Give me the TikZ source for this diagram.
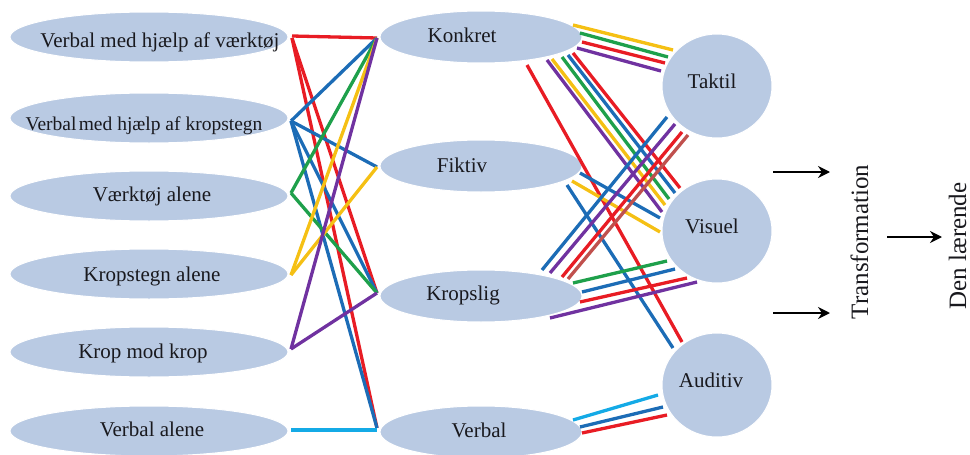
\documentclass[tikz,border=0pt]{standalone}
\usepackage{fontspec}
\setmainfont{Liberation Serif}
\usetikzlibrary{shapes.geometric,arrows.meta}
\definecolor{ellblue}{RGB}{185,202,227}
\definecolor{cred}{RGB}{232,28,36}
\definecolor{cblue}{RGB}{28,108,182}
\definecolor{cgreen}{RGB}{30,160,75}
\definecolor{cyell}{RGB}{245,192,20}
\definecolor{cpurp}{RGB}{112,50,160}
\definecolor{ccyan}{RGB}{20,170,230}
\definecolor{cbrown}{RGB}{192,80,77}
\definecolor{txtc}{RGB}{25,25,30}
\begin{document}
\begin{tikzpicture}[x=1pt,y=-1pt,
  lell/.style={ellipse,fill=ellblue,draw=white,line width=1pt,minimum width=278pt,minimum height=50pt,inner sep=0pt},
  mell/.style={ellipse,fill=ellblue,draw=white,line width=1pt,minimum width=202pt,minimum height=52pt,inner sep=0pt},
  circ/.style={ellipse,fill=ellblue,draw=white,line width=1pt,minimum width=110pt,minimum height=104pt,inner sep=0pt},
  txt/.style={anchor=base,inner sep=0pt,text=txtc,font=\fontsize{21}{25}\selectfont},
  rtxt/.style={anchor=base,rotate=90,inner sep=0pt,text=txtc,font=\fontsize{25}{30}\selectfont},
  ln/.style={line width=3.3pt},
  cr/.style={draw=cred}, cb/.style={draw=cblue}, cg/.style={draw=cgreen},
  cy/.style={draw=cyell}, cp/.style={draw=cpurp}, cc/.style={draw=ccyan},
  cbr/.style={draw=cbrown},
  arr/.style={line width=2.8pt,-{Stealth[length=12pt,width=12pt,inset=4pt]}}
]
\useasboundingbox (0,0) rectangle (970,455);

% left column
\node[lell] (l1) at (149,37) {};
\node[lell] (l2) at (149,118) {};
\node[lell] (l3) at (149,196) {};
\node[lell] (l4) at (149,274) {};
\node[lell] (l5) at (149,352) {};
\node[lell] (l6) at (149,431) {};
% middle column
\node[mell] (konkret) at (481,37) {};
\node[mell] (fiktiv) at (481,166) {};
\node[mell] (kropslig) at (481,296) {};
\node[mell] (verbal) at (481,432) {};
% right column
\node[circ] (taktil) at (717,86) {};
\node[circ] (visuel) at (717,231) {};
\node[circ] (auditiv) at (717,385) {};

% texts
\node[txt] (t1) at (160,47) {Verbal med hjælp af værktøj};
\node[txt,font=\fontsize{19.5}{24}\selectfont] (t2) at (144,130) {Verbal\hspace{0.12em}med hjælp af kropstegn};
\node[txt] (t3) at (152,201.5) {Værktøj alene};
\node[txt] (t4) at (152,281.5) {Kropstegn alene};
\node[txt] (t5) at (143,358) {Krop mod krop};
\node[txt] (t6) at (152,436.5) {Verbal alene};
\node[txt] (tk) at (462,42) {Konkret};
\node[txt] (tf) at (462,172) {Fiktiv};
\node[txt] (tkr) at (463,300) {Kropslig};
\node[txt] (tv) at (479,437) {Verbal};
\node[txt] (tt) at (712,88) {Taktil};
\node[txt] (tvi) at (712,233) {Visuel};
\node[txt] (ta) at (711,387) {Auditiv};
\node[rtxt] (trans) at (868,242) {Transformation};
\node[rtxt] (den) at (966,246) {Den lærende};

% left endpoints
\coordinate (p1) at ([shift={(143,-1)}]l1.center);
\coordinate (p1b) at ([shift={(143,1)}]l1.center);
\coordinate (p2) at ([shift={(142,3)}]l2.center);
\coordinate (p3) at ([shift={(142,-3)}]l3.center);
\coordinate (p4) at ([shift={(142,1)}]l4.center);
\coordinate (p5) at ([shift={(142,-3)}]l5.center);
\coordinate (p6) at ([shift={(142,-1)}]l6.center);
% middle left endpoints
\coordinate (mk) at ([shift={(-104,1)}]konkret.center);
\coordinate (mf) at ([shift={(-104,1)}]fiktiv.center);
\coordinate (mkr) at ([shift={(-104,-3)}]kropslig.center);
\coordinate (mv) at ([shift={(-104,-4)}]verbal.center);
\coordinate (mv2) at ([shift={(-104,-2)}]verbal.center);

% left -> middle
\draw[ln,cr] (p1) -- (mk);
\draw[ln,cr] (p1b) -- (mkr);
\draw[ln,cr] (p1b) -- (mv);
\draw[ln,cb] (p2) -- (mk);
\draw[ln,cb] (p2) -- (mf);
\draw[ln,cb] (p2) -- (mkr);
\draw[ln,cb] (p2) -- (mv);
\draw[ln,cg] (p3) -- (mk);
\draw[ln,cg] (p3) -- (mkr);
\draw[ln,cy] (p4) -- (mk);
\draw[ln,cy] (p4) -- (mf);
\draw[ln,cp] (p5) -- (mk);
\draw[ln,cp] (p5) -- (mkr);
\draw[ln,cc] (p6) -- (mv2);

% Konkret -> Taktil
\draw[ln,cy] ([shift={(92,-12)}]konkret.center) -- ([shift={(-44,-36)}]taktil.center);
\draw[ln,cg] ([shift={(99,-4)}]konkret.center) -- ([shift={(-49,-29)}]taktil.center);
\draw[ln,cr] ([shift={(101,5)}]konkret.center) -- ([shift={(-52,-23)}]taktil.center);
\draw[ln,cp] ([shift={(96,11)}]konkret.center) -- ([shift={(-56,-15)}]taktil.center);
% Konkret -> Visuel
\draw[ln,cp] ([shift={(66,23)}]konkret.center) -- ([shift={(-55,-19)}]visuel.center);
\draw[ln,cy] ([shift={(71,22)}]konkret.center) -- ([shift={(-52,-26)}]visuel.center);
\draw[ln,cg] ([shift={(81,20)}]konkret.center) -- ([shift={(-48,-32)}]visuel.center);
\draw[ln,cb] ([shift={(87,18)}]konkret.center) -- ([shift={(-42,-38)}]visuel.center);
\draw[ln,cr] ([shift={(92,16)}]konkret.center) -- ([shift={(-37,-43)}]visuel.center);
% Konkret -> Auditiv
\draw[ln,cr] ([shift={(46,28)}]konkret.center) -- ([shift={(-35,-43)}]auditiv.center);
% Fiktiv
\draw[ln,cb] ([shift={(99,7)}]fiktiv.center) -- ([shift={(-57,-13)}]visuel.center);
\draw[ln,cy] ([shift={(91,15)}]fiktiv.center) -- ([shift={(-57,1)}]visuel.center);
\draw[ln,cb] ([shift={(86,19)}]fiktiv.center) -- ([shift={(-44,-37)}]auditiv.center);
% Kropslig -> Taktil
\draw[ln,cb] ([shift={(61,-26)}]kropslig.center) -- ([shift={(-50,31)}]taktil.center);
\draw[ln,cp] ([shift={(69,-23)}]kropslig.center) -- ([shift={(-42,38)}]taktil.center);
\draw[ln,cr] ([shift={(81,-19)}]kropslig.center) -- ([shift={(-35,46)}]taktil.center);
\draw[ln,cbr] ([shift={(87,-17)}]kropslig.center) -- ([shift={(-29,49)}]taktil.center);
% Kropslig -> Visuel
\draw[ln,cg] ([shift={(92,-13)}]kropslig.center) -- ([shift={(-50,30)}]visuel.center);
\draw[ln,cb] ([shift={(101,-4)}]kropslig.center) -- ([shift={(-42,38)}]visuel.center);
\draw[ln,cr] ([shift={(99,6)}]kropslig.center) -- ([shift={(-30,47)}]visuel.center);
\draw[ln,cp] ([shift={(69,22)}]kropslig.center) -- ([shift={(-20,51)}]visuel.center);
% Verbal -> Auditiv
\draw[ln,cc] ([shift={(92,-12)}]verbal.center) -- ([shift={(-59,10)}]auditiv.center);
\draw[ln,cb] ([shift={(99,-5)}]verbal.center) -- ([shift={(-54,22)}]auditiv.center);
\draw[ln,cr] ([shift={(101,1)}]verbal.center) -- ([shift={(-50,30)}]auditiv.center);

% arrows
\coordinate (a1s) at (773,172);
\coordinate (a1e) at (830,172);
\coordinate (a2s) at (773,313);
\coordinate (a2e) at (830,313);
\coordinate (a3s) at (887,237);
\coordinate (a3e) at (942,237);
\draw[arr] (a1s) -- (a1e);
\draw[arr] (a2s) -- (a2e);
\draw[arr] (a3s) -- (a3e);
\end{tikzpicture}
\end{document}
